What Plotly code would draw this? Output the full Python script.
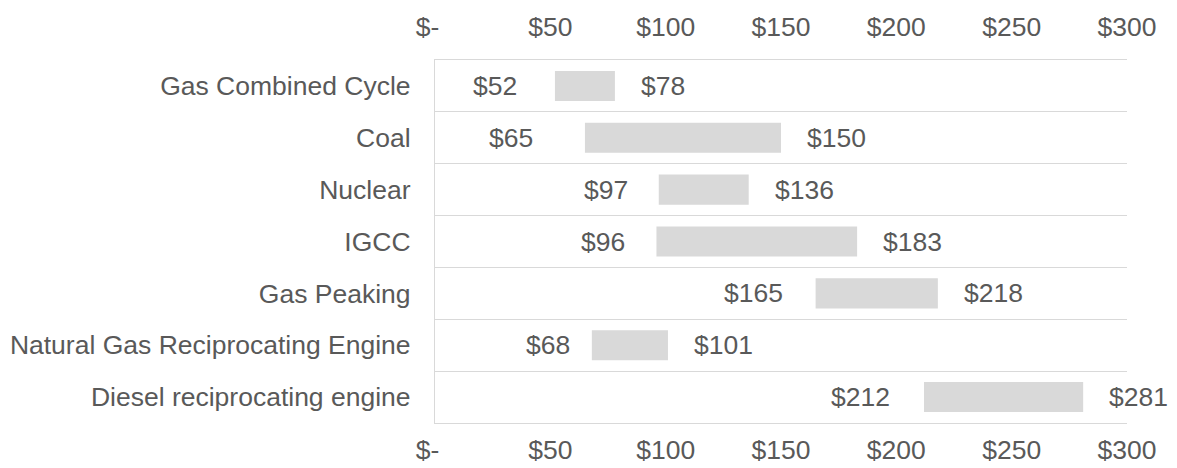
import plotly.graph_objects as go

# Levelized cost ranges by technology ($/MWh)
technologies = [
    "Gas Combined Cycle",
    "Coal",
    "Nuclear",
    "IGCC",
    "Gas Peaking",
    "Natural Gas Reciprocating Engine",
    "Diesel reciprocating engine",
]
low_cost = [52, 65, 97, 96, 165, 68, 212]
high_cost = [78, 150, 136, 183, 218, 101, 281]

tick_values = [0, 50, 100, 150, 200, 250, 300]
tick_labels = ["$-\u00a0\u00a0", "$50", "$100", "$150", "$200", "$250", "$300"]

# gap (px) between each low label and the start of its bar
low_label_gap = [36, 50, 29, 29, 31, 20, 32]
high_label_gap = 24

FONT = "Liberation Sans, Arial, sans-serif"
TEXT = "#595959"
GREY = "#d9d9d9"
SIZE = 26.5

fig = go.Figure()
fig.add_trace(go.Bar(
    y=technologies,
    x=[h - l for l, h in zip(low_cost, high_cost)],
    base=low_cost,
    orientation="h",
    marker=dict(color=GREY, line=dict(width=0)),
    width=0.58,
    hoverinfo="skip",
))
# invisible companion trace so the top axis is drawn
fig.add_trace(go.Scatter(
    x=[0, 300], y=[technologies[0], technologies[0]],
    xaxis="x2", mode="markers", marker=dict(opacity=0),
    hoverinfo="skip", showlegend=False,
))

annotations = []
for tech, lo, hi, gap in zip(technologies, low_cost, high_cost, low_label_gap):
    annotations.append(dict(
        x=lo, y=tech, xref="x", yref="y", text=f"${lo}",
        showarrow=False, xanchor="right", yanchor="middle", xshift=-gap,
        font=dict(family=FONT, size=SIZE, color=TEXT),
    ))
    annotations.append(dict(
        x=hi, y=tech, xref="x", yref="y", text=f"${hi}",
        showarrow=False, xanchor="left", yanchor="middle", xshift=high_label_gap,
        font=dict(family=FONT, size=SIZE, color=TEXT),
    ))

axis_common = dict(
    range=[0, 300],
    tickvals=tick_values,
    ticktext=tick_labels,
    showgrid=False,
    zeroline=False,
    showline=True,
    linecolor=GREY,
    linewidth=1.3,
    ticks="",
    automargin=False,
    tickfont=dict(family=FONT, size=SIZE, color=TEXT),
    fixedrange=True,
)

fig.update_layout(
    width=1177,
    height=468,
    margin=dict(l=435, r=50, t=60, b=45),
    paper_bgcolor="white",
    plot_bgcolor="white",
    showlegend=False,
    xaxis=dict(side="bottom", ticklabelstandoff=3, **axis_common),
    xaxis2=dict(side="top", overlaying="x", matches="x", ticklabelstandoff=12, **axis_common),
    yaxis=dict(
        autorange="reversed",
        tickson="boundaries",
        showgrid=True,
        gridcolor=GREY,
        gridwidth=1.3,
        showline=True,
        linecolor=GREY,
        linewidth=1.3,
        mirror=False,
        ticks="",
        ticklabelstandoff=18,
        automargin=False,
        tickfont=dict(family=FONT, size=SIZE, color=TEXT),
        zeroline=False,
        fixedrange=True,
    ),
    annotations=annotations,
)

fig.write_html("out.html")
